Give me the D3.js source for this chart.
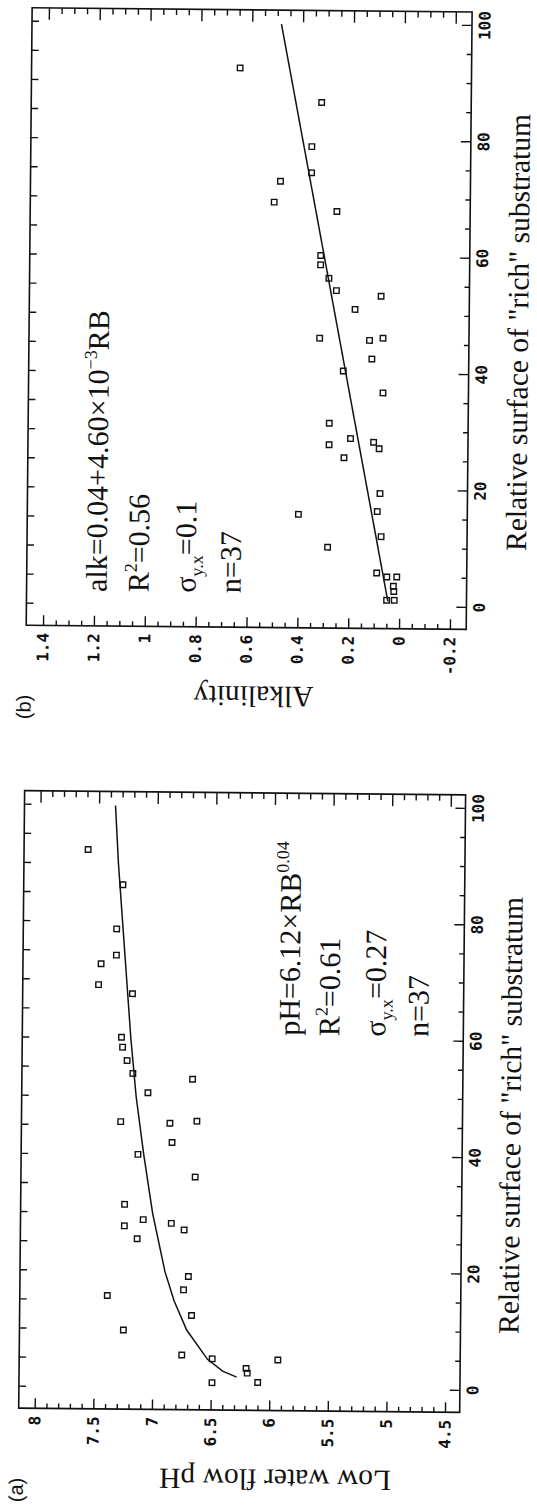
<!DOCTYPE html>
<html>
<head>
<meta charset="utf-8">
<script src="https://cdnjs.cloudflare.com/ajax/libs/d3/7.8.5/d3.min.js"></script>
<style>
body { margin: 0; background: #fff; }
.tick text { font-family: "DejaVu Sans Mono", monospace; font-weight: bold; font-size: 16px; fill: #111; }
.ann { font-family: "Liberation Serif", serif; font-size: 30px; fill: #111; }
.tag { font-family: "Liberation Sans", sans-serif; font-size: 20px; fill: #111; }
</style>
</head>
<body>
<script>
// panel (a): relative surface of "rich" substratum vs low water flow pH
var rbA = [92.4, 86.4, 78.8, 74.3, 72.8, 69.2, 67.7, 60.2, 58.5, 56.2, 54.0, 53.1, 50.7,
	45.7, 45.5, 45.9, 42.2, 40.1, 36.3, 31.5, 27.8, 28.9, 28.3, 27.2, 25.6, 19.2, 15.8,
	16.9, 12.5, 9.9, 5.7, 5.1, 1.0, 3.5, 2.7, 1.1, 5.0];
var phA = [7.59, 7.29, 7.34, 7.34, 7.47, 7.49, 7.20, 7.29, 7.28, 7.24, 7.19, 6.68, 7.06,
	7.29, 6.87, 6.64, 6.85, 7.14, 6.65, 7.25, 7.25, 7.09, 6.85, 6.74, 7.14, 6.70, 7.39,
	6.74, 6.67, 7.25, 6.75, 6.49, 6.49, 6.20, 6.19, 6.10, 5.93];
// fitted curve
var curveRB = [2, 3, 5, 10, 15, 20, 30, 40, 50, 60, 70, 80, 90, 100];
var curvePH = [6.28, 6.40, 6.53, 6.71, 6.82, 6.90, 7.01, 7.09, 7.16, 7.21, 7.25, 7.29, 7.33, 7.36];

// panel (b): relative surface vs alkalinity
var rbB = [92.4, 86.6, 79.0, 74.5, 73.0, 69.4, 67.9, 60.3, 58.7, 56.4, 54.3, 53.4, 51.1,
	46.1, 45.8, 46.2, 42.6, 40.5, 36.8, 31.5, 27.8, 28.9, 28.3, 27.2, 25.6, 19.5, 15.8,
	16.4, 12.1, 10.2, 5.85, 5.18, 5.2, 3.6, 2.7, 1.17, 1.18];
var alkB = [0.646, 0.324, 0.361, 0.361, 0.483, 0.507, 0.260, 0.322, 0.322, 0.289, 0.259, 0.083, 0.185,
	0.323, 0.127, 0.074, 0.117, 0.229, 0.072, 0.282, 0.282, 0.198, 0.107, 0.085, 0.223, 0.080, 0.400,
	0.090, 0.074, 0.284, 0.090, 0.050, 0.011, 0.024, 0.022, 0.050, 0.020];
var lineRB = [1, 100];
var lineAlk = [0.045, 0.485];

// ticks
var rbTicks = [0, 20, 40, 60, 80, 100];
var phTicks = [8, 7.5, 7, 6.5, 6, 5.5, 5, 4.5];
var phLabels = ['8', '7.5', '7', '6.5', '6', '5.5', '5', '4.5'];
var alkTicks = [1.4, 1.2, 1, 0.8, 0.6, 0.4, 0.2, 0, -0.2];
var alkLabels = ['1.4', '1.2', '1', '0.8', '0.6', '0.4', '0.2', '0', '-0.2'];

var svg = d3.select('body')
	.append('svg')
	.attr('width', 537)
	.attr('height', 1507);

// the scanned page sits slightly askew
var page = svg.append('g').attr('transform', 'rotate(0.55,268,753)');

var drawAxis = function(g, axis, tx, ty) {
	var a = g.append('g')
		.attr('transform', 'translate(' + tx + ',' + ty + ')')
		.call(axis);
	a.select('.domain').remove();
	a.selectAll('.tick line').attr('stroke', '#111').attr('stroke-width', 1.4);
	return a;
};

var panel = function(opt) {
	// the whole figure is printed turned a quarter turn
	var g = page.append('g')
		.attr('transform', 'translate(0,' + opt.base + ') rotate(-90)');

	var W = 617.5, top = 25, bottom = opt.right;
	var x = d3.scaleLinear().domain([0, 100]).range([21.5, 603.5]);
	var y = d3.scaleLinear().domain(opt.yDomain).range(opt.yRange);

	// frame
	g.append('rect')
		.attr('x', 0).attr('y', top)
		.attr('width', W).attr('height', bottom - top)
		.attr('fill', 'none')
		.attr('stroke', '#111')
		.attr('stroke-width', 1.6);

	// x axis (RB)
	var rbMinor = d3.range(0, 101, 5).filter(function(d) { return d % 20 !== 0; });
	drawAxis(g, d3.axisBottom(x).tickValues(rbTicks).tickSize(-10).tickPadding(7)
		.tickFormat(function(d) { return String(d); }), 0, bottom);
	drawAxis(g, d3.axisBottom(x).tickValues(rbMinor).tickSize(-5).tickFormat(''), 0, bottom);
	drawAxis(g, d3.axisTop(x).tickValues(d3.range(0, 101, 5)).tickSize(-7).tickFormat(''), 0, top);

	// y axis
	drawAxis(g, d3.axisLeft(y).tickValues(opt.ticks).tickSize(-10).tickPadding(7.5)
		.tickFormat(function(d, i) { return opt.labels[i]; }), 0, 0);
	drawAxis(g, d3.axisLeft(y).tickValues(opt.minor).tickSize(-5).tickFormat(''), 0, 0);
	drawAxis(g, d3.axisRight(y).tickValues(opt.ticks).tickSize(-12).tickFormat(''), W, 0);
	drawAxis(g, d3.axisRight(y).tickValues(opt.minor).tickSize(-6).tickFormat(''), W, 0);

	// fitted line
	var pts = opt.fitX.map(function(d, i) { return [d, opt.fitY[i]]; });
	g.append('path')
		.datum(pts)
		.attr('fill', 'none')
		.attr('stroke', '#111')
		.attr('stroke-width', 1.5)
		.attr('d', d3.line()
			.x(function(d) { return x(d[0]); })
			.y(function(d) { return y(d[1]); }));

	// observations
	var obs = opt.px.map(function(d, i) { return [d, opt.py[i]]; });
	g.selectAll('.obs')
		.data(obs)
		.enter()
		.append('rect')
		.classed('obs', true)
		.attr('x', function(d) { return x(d[0]) - 2.75; })
		.attr('y', function(d) { return y(d[1]) - 2.75; })
		.attr('width', 5.5)
		.attr('height', 5.5)
		.attr('fill', 'none')
		.attr('stroke', '#111')
		.attr('stroke-width', 1.4);

	// axis titles
	g.append('text')
		.attr('class', 'ann')
		.attr('x', 79)
		.attr('y', 524)
		.style('font-size', '29.5px')
		.text('Relative surface of "rich" substratum');
	g.append('text')
		.attr('class', 'ann')
		.attr('transform', 'translate(' + opt.titleU + ',' + opt.titleV + ') rotate(-90)')
		.attr('text-anchor', 'middle')
		.style('font-size', '29.5px')
		.text(opt.title);
	g.append('text')
		.attr('class', 'tag')
		.attr('x', -94)
		.attr('y', 30)
		.text(opt.tag);

	// fit statistics
	opt.notes.forEach(function(parts, i) {
		var t = g.append('text')
			.attr('class', 'ann')
			.attr('x', opt.noteU)
			.attr('y', opt.noteV[i]);
		var shift = 0;
		parts.forEach(function(p) {
			var dy = 0, size = null;
			if (p[1] === 'sup') { dy = -12 - shift; shift = -12; size = '18px'; }
			else if (p[1] === 'sub') { dy = 7 - shift; shift = 7; size = '18px'; }
			else { dy = -shift; shift = 0; }
			var s = t.append('tspan').attr('dy', dy).text(p[0]);
			if (size) s.style('font-size', size);
		});
	});
};

var phMinor = d3.range(45, 81).filter(function(d) { return d % 5 !== 0; }).map(function(d) { return d / 10; });
var alkMinor = d3.range(-4, 29).filter(function(d) { return d % 4 !== 0; }).map(function(d) { return d / 20; });

panel({
	base: 1410.5, right: 466,
	yDomain: [8, 4.5], yRange: [41, 451.3],
	ticks: phTicks, labels: phLabels, minor: phMinor,
	px: rbA, py: phA, fitX: curveRB, fitY: curvePH,
	title: 'Low water flow pH', titleU: -59, titleV: 282, tag: '(a)',
	noteU: 375, noteV: [302, 342, 388, 431],
	notes: [
		[['pH=6.12\u00d7RB', ''], ['0.04', 'sup']],
		[['R', ''], ['2', 'sup'], ['=0.61', '']],
		[['\u03c3', ''], ['y.x', 'sub'], ['=0.27', '']],
		[['n=37', '']]
	]
});

panel({
	base: 627.5, right: 465,
	yDomain: [1.4, -0.2], yRange: [41.8, 448.7],
	ticks: alkTicks, labels: alkLabels, minor: alkMinor,
	px: rbB, py: alkB, fitX: lineRB, fitY: lineAlk,
	title: 'Alkalinity', titleU: -59, titleV: 253, tag: '(b)',
	noteU: 34, noteV: [105, 147, 194, 239],
	notes: [
		[['alk=0.04+4.60\u00d710', ''], ['\u22123', 'sup'], ['RB', '']],
		[['R', ''], ['2', 'sup'], ['=0.56', '']],
		[['\u03c3', ''], ['y.x', 'sub'], ['=0.1', '']],
		[['n=37', '']]
	]
});
</script>
</body>
</html>
